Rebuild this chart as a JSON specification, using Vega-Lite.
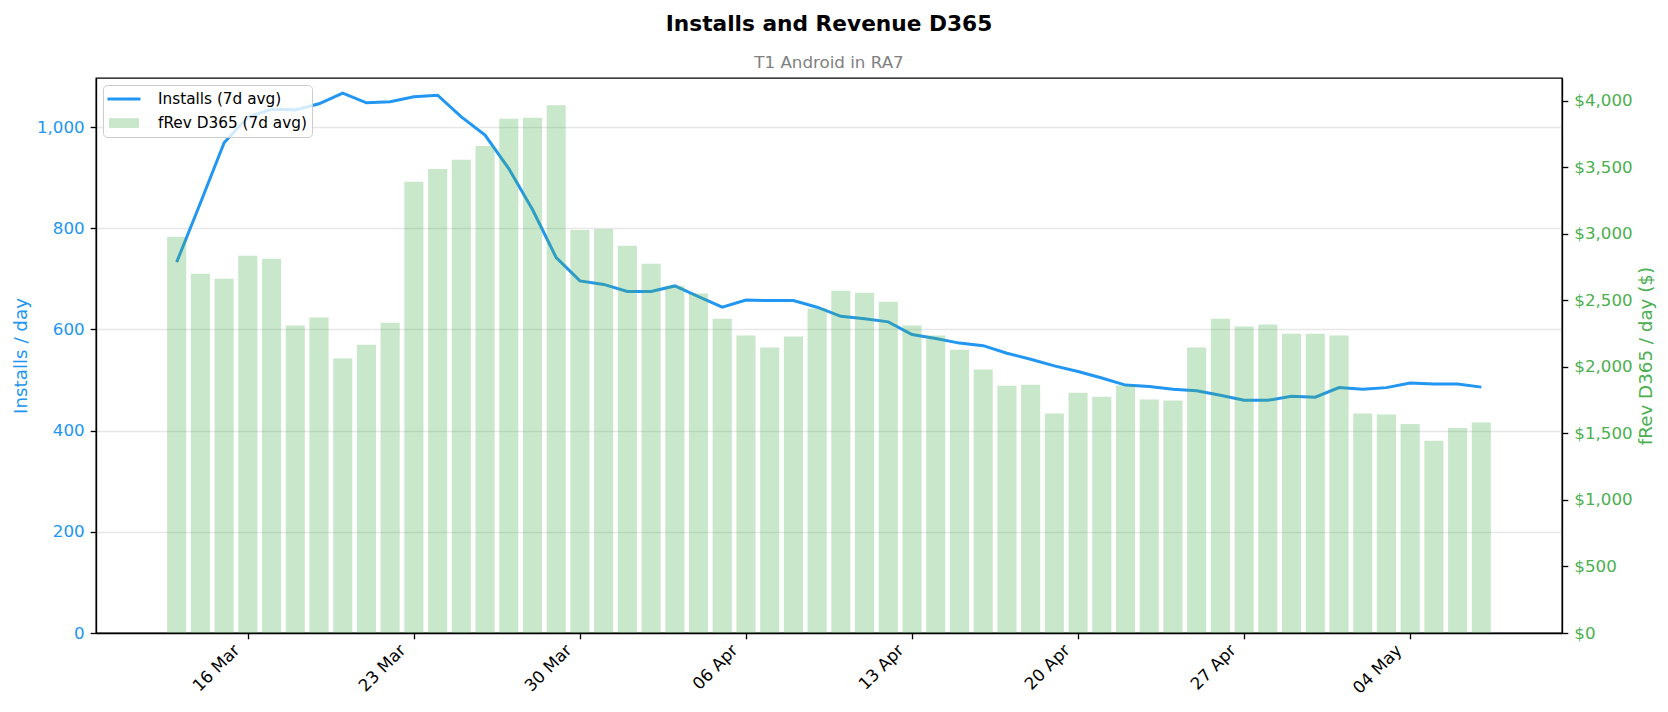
{
  "$schema": "https://vega.github.io/schema/vega-lite/v6.json",
  "width": 1466,
  "height": 555,
  "autosize": {"type": "none"},
  "padding": {"left": 96, "top": 78, "right": 106, "bottom": 79},
  "background": "white",
  "title": {
    "text": "Installs and Revenue D365",
    "subtitle": "T1 Android in RA7",
    "anchor": "middle",
    "font": "DejaVu Sans",
    "fontSize": 21.7,
    "fontWeight": "bold",
    "color": "#000000",
    "subtitleFont": "DejaVu Sans",
    "subtitleFontSize": 16.7,
    "subtitleColor": "#808080",
    "subtitlePadding": 20,
    "offset": 6
  },
  "data": {
    "values": [
      {"date": "2025-03-13", "installs": 733, "revenue": 2977},
      {"date": "2025-03-14", "installs": 850, "revenue": 2700},
      {"date": "2025-03-15", "installs": 969, "revenue": 2662},
      {"date": "2025-03-16", "installs": 1020, "revenue": 2835},
      {"date": "2025-03-17", "installs": 1035, "revenue": 2811},
      {"date": "2025-03-18", "installs": 1034, "revenue": 2310},
      {"date": "2025-03-19", "installs": 1046, "revenue": 2370},
      {"date": "2025-03-20", "installs": 1067, "revenue": 2062},
      {"date": "2025-03-21", "installs": 1048, "revenue": 2165},
      {"date": "2025-03-22", "installs": 1050, "revenue": 2331},
      {"date": "2025-03-23", "installs": 1060, "revenue": 3390},
      {"date": "2025-03-24", "installs": 1063, "revenue": 3486},
      {"date": "2025-03-25", "installs": 1020, "revenue": 3556},
      {"date": "2025-03-26", "installs": 984, "revenue": 3659},
      {"date": "2025-03-27", "installs": 918, "revenue": 3863},
      {"date": "2025-03-28", "installs": 837, "revenue": 3871},
      {"date": "2025-03-29", "installs": 742, "revenue": 3966},
      {"date": "2025-03-30", "installs": 696, "revenue": 3028},
      {"date": "2025-03-31", "installs": 689, "revenue": 3036},
      {"date": "2025-04-01", "installs": 675, "revenue": 2910},
      {"date": "2025-04-02", "installs": 675, "revenue": 2775},
      {"date": "2025-04-03", "installs": 686, "revenue": 2610},
      {"date": "2025-04-04", "installs": 665, "revenue": 2550},
      {"date": "2025-04-05", "installs": 644, "revenue": 2362},
      {"date": "2025-04-06", "installs": 658, "revenue": 2235},
      {"date": "2025-04-07", "installs": 657, "revenue": 2145},
      {"date": "2025-04-08", "installs": 657, "revenue": 2227},
      {"date": "2025-04-09", "installs": 644, "revenue": 2439},
      {"date": "2025-04-10", "installs": 626, "revenue": 2571},
      {"date": "2025-04-11", "installs": 621, "revenue": 2556},
      {"date": "2025-04-12", "installs": 615, "revenue": 2488},
      {"date": "2025-04-13", "installs": 590, "revenue": 2310},
      {"date": "2025-04-14", "installs": 582, "revenue": 2235},
      {"date": "2025-04-15", "installs": 573, "revenue": 2129},
      {"date": "2025-04-16", "installs": 568, "revenue": 1979},
      {"date": "2025-04-17", "installs": 553, "revenue": 1858},
      {"date": "2025-04-18", "installs": 541, "revenue": 1866},
      {"date": "2025-04-19", "installs": 528, "revenue": 1649},
      {"date": "2025-04-20", "installs": 517, "revenue": 1806},
      {"date": "2025-04-21", "installs": 504, "revenue": 1775},
      {"date": "2025-04-22", "installs": 490, "revenue": 1860},
      {"date": "2025-04-23", "installs": 487, "revenue": 1755},
      {"date": "2025-04-24", "installs": 482, "revenue": 1747},
      {"date": "2025-04-25", "installs": 479, "revenue": 2145},
      {"date": "2025-04-26", "installs": 470, "revenue": 2362},
      {"date": "2025-04-27", "installs": 460, "revenue": 2302},
      {"date": "2025-04-28", "installs": 460, "revenue": 2318},
      {"date": "2025-04-29", "installs": 468, "revenue": 2248},
      {"date": "2025-04-30", "installs": 466, "revenue": 2248},
      {"date": "2025-05-01", "installs": 485, "revenue": 2235},
      {"date": "2025-05-02", "installs": 482, "revenue": 1649},
      {"date": "2025-05-03", "installs": 485, "revenue": 1641},
      {"date": "2025-05-04", "installs": 494, "revenue": 1570},
      {"date": "2025-05-05", "installs": 492, "revenue": 1445},
      {"date": "2025-05-06", "installs": 492, "revenue": 1541},
      {"date": "2025-05-07", "installs": 486, "revenue": 1581}
    ]
  },
  "layer": [
    {
      "mark": {"type": "line", "strokeWidth": 3},
      "encoding": {
        "x": {
          "field": "date",
          "type": "temporal",
          "scale": {
            "type": "utc",
            "domain": [
              {"year": 2025, "month": 3, "date": 9, "hours": 19, "minutes": 26, "utc": true},
              {"year": 2025, "month": 5, "date": 10, "hours": 4, "minutes": 34, "utc": true}
            ]
          },
          "axis": {
            "title": null,
            "grid": false,
            "labelExpr": "utcFormat(datum.value, '%d %b')",
            "labelAngle": -45,
            "labelAlign": "right",
            "labelBaseline": "top",
            "labelPadding": 3,
            "labelOffset": -17,
            "labelColor": "#000000",
            "values": [
              {"year": 2025, "month": 3, "date": 16, "utc": true},
              {"year": 2025, "month": 3, "date": 23, "utc": true},
              {"year": 2025, "month": 3, "date": 30, "utc": true},
              {"year": 2025, "month": 4, "date": 6, "utc": true},
              {"year": 2025, "month": 4, "date": 13, "utc": true},
              {"year": 2025, "month": 4, "date": 20, "utc": true},
              {"year": 2025, "month": 4, "date": 27, "utc": true},
              {"year": 2025, "month": 5, "date": 4, "utc": true}
            ]
          }
        },
        "y": {
          "field": "installs",
          "type": "quantitative",
          "scale": {"domain": [0, 1097], "nice": false, "zero": true},
          "axis": {
            "orient": "left",
            "title": "Installs / day",
            "titleColor": "#2196F3",
            "titlePadding": 6,
            "labelColor": "#2196F3",
            "values": [0, 200, 400, 600, 800, 1000],
            "labelExpr": "format(datum.value, ',')",
            "grid": true
          }
        },
        "color": {
          "datum": "Installs (7d avg)",
          "type": "nominal",
          "scale": {
            "domain": ["Installs (7d avg)", "fRev D365 (7d avg)"],
            "range": ["#2196F3", "#4CAF50"]
          },
          "legend": {
            "title": null,
            "orient": "top-left",
            "offset": 7,
            "padding": 5,
            "rowPadding": 6,
            "fillColor": "rgba(255,255,255,0.8)",
            "strokeColor": "#cccccc",
            "cornerRadius": 4,
            "labelFont": "DejaVu Sans",
            "labelFontSize": 15.3,
            "labelColor": "#000000",
            "labelOffset": 25,
            "labelLimit": 300,
            "symbolSize": 225,
            "symbolOffset": 7,
            "encode": {
              "symbols": {
                "update": {
                  "shape": {"signal": "datum.value === 'Installs (7d avg)' ? 'M-2.2,0H2.2' : 'M-2,-0.65H2V0.65H-2Z'"},
                  "fillOpacity": {"signal": "datum.value === 'Installs (7d avg)' ? 0 : 0.3"},
                  "strokeOpacity": {"signal": "datum.value === 'Installs (7d avg)' ? 1 : 0"},
                  "strokeWidth": {"value": 3},
                  "opacity": {"value": 1}
                }
              }
            }
          }
        }
      }
    },
    {
      "mark": {"type": "bar", "width": 19.1, "opacity": 0.3},
      "encoding": {
        "x": {"field": "date", "type": "temporal"},
        "y": {
          "field": "revenue",
          "type": "quantitative",
          "scale": {"domain": [0, 4170], "nice": false, "zero": true},
          "axis": {
            "orient": "right",
            "title": "fRev D365 / day ($)",
            "titleColor": "#4CAF50",
            "titleAngle": -90,
            "titleBaseline": "top",
            "titlePadding": 5,
            "labelColor": "#4CAF50",
            "values": [0, 500, 1000, 1500, 2000, 2500, 3000, 3500, 4000],
            "labelExpr": "'$' + format(datum.value, ',')",
            "grid": false
          }
        },
        "color": {"datum": "fRev D365 (7d avg)", "type": "nominal"}
      }
    }
  ],
  "resolve": {"scale": {"y": "independent"}},
  "config": {
    "font": "DejaVu Sans",
    "view": {"stroke": "#000000", "strokeWidth": 1.33},
    "axis": {
      "labelFont": "DejaVu Sans",
      "titleFont": "DejaVu Sans",
      "labelFontSize": 16.7,
      "titleFontSize": 18.3,
      "titleFontWeight": "normal",
      "domainColor": "#000000",
      "domainWidth": 1.33,
      "tickColor": "#000000",
      "tickWidth": 1.33,
      "tickSize": 5.8,
      "labelPadding": 6,
      "gridColor": "#b0b0b0",
      "gridOpacity": 0.3,
      "gridWidth": 1.33
    }
  }
}
